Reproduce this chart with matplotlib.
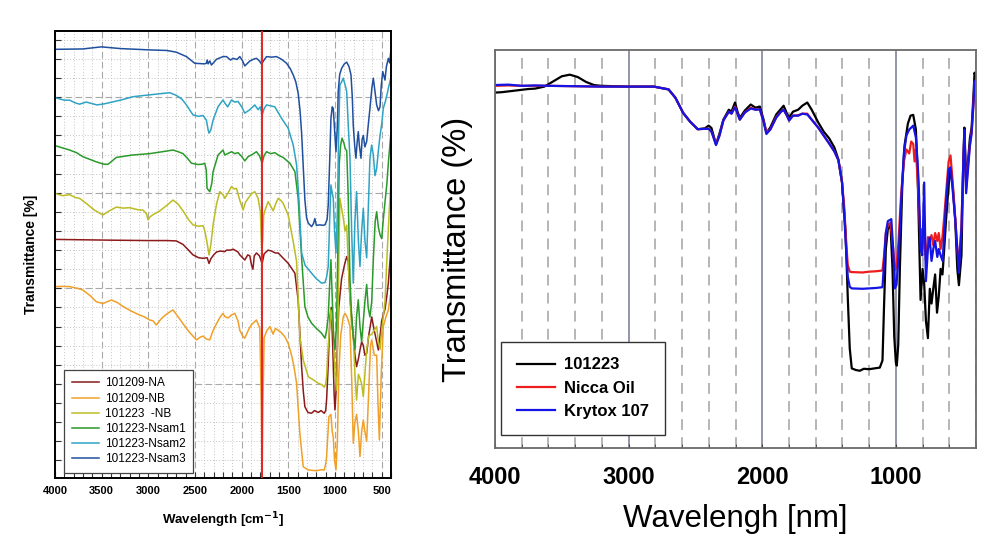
import matplotlib
matplotlib.use("Agg")
import matplotlib.pyplot as plt
from matplotlib.ticker import MultipleLocator, NullFormatter, NullLocator

plt.rcParams['font.family'] = ['Liberation Sans', 'DejaVu Sans']

# ---------------- Left panel data (wavenumber, transmittance in grid units) ----------------
na_wn = [4000, 3700, 3400, 3000, 2800, 2700, 2629, 2570, 2522, 2460, 2414, 2370, 2350, 2330, 2300, 2270, 2230, 2181, 2163, 2120, 2092, 2074, 2040, 2020, 1990, 1967, 1935, 1913, 1895, 1880, 1865, 1842, 1810, 1781, 1760, 1717, 1680, 1640, 1609, 1560, 1502, 1430, 1395, 1375, 1358, 1340, 1323, 1290, 1251, 1220, 1180, 1150, 1116, 1100, 1090, 1073, 1055, 1040, 1025, 1010, 1001, 990, 975, 960, 930, 900, 875, 858, 840, 822, 805, 787, 769, 750, 733, 715, 697, 680, 661, 640, 607, 580, 554, 536, 518, 500, 483, 465, 445, 429, 403]
na_t = [12.56, 12.54, 12.52, 12.5, 12.5, 12.48, 12.3, 12.0, 11.75, 11.6, 11.57, 11.6, 11.3, 11.55, 11.75, 11.9, 11.95, 11.92, 12.0, 12.0, 12.05, 12.0, 11.9, 11.75, 11.6, 11.48, 11.75, 11.7, 11.22, 11.0, 11.7, 11.85, 11.7, 11.3, 11.8, 12.0, 11.95, 11.85, 11.85, 11.6, 11.31, 10.79, 9.39, 7.5, 5.9, 4.6, 3.8, 3.5, 3.46, 3.6, 3.5, 3.6, 3.46, 3.6, 4.2, 6.0, 8.5, 9.0, 7.0, 4.5, 3.63, 4.5, 7.0, 9.0, 10.5, 11.2, 11.66, 11.4, 9.5, 8.5, 7.5, 6.5, 5.9, 6.3, 6.77, 7.2, 7.0, 6.5, 6.6, 7.5, 8.5, 7.8, 7.2, 6.77, 7.5, 8.3, 8.6, 8.9, 9.6, 10.27, 12.0]

nb_wn = [4000, 3920, 3844, 3760, 3702, 3620, 3558, 3487, 3397, 3330, 3272, 3180, 3093, 3040, 2986, 2950, 2914, 2880, 2843, 2790, 2736, 2680, 2629, 2560, 2485, 2440, 2414, 2380, 2342, 2310, 2270, 2230, 2200, 2181, 2145, 2110, 2074, 2040, 2020, 1990, 1967, 1930, 1895, 1842, 1806, 1790, 1781, 1772, 1760, 1730, 1698, 1663, 1640, 1609, 1580, 1538, 1500, 1466, 1440, 1412, 1377, 1341, 1287, 1200, 1150, 1116, 1100, 1090, 1075, 1066, 1044, 1030, 1019, 1005, 990, 975, 960, 940, 912, 894, 870, 840, 820, 805, 787, 769, 750, 733, 715, 697, 680, 661, 640, 620, 607, 580, 554, 540, 525, 505, 483, 455, 429, 403]
nb_t = [10.09, 10.1, 10.09, 10.0, 9.91, 9.6, 9.3, 9.2, 9.39, 9.25, 9.05, 8.8, 8.6, 8.5, 8.34, 8.3, 8.08, 8.3, 8.5, 8.7, 8.87, 8.5, 8.15, 7.7, 7.3, 7.45, 7.5, 7.35, 7.3, 7.75, 8.15, 8.5, 8.69, 8.52, 8.45, 8.6, 8.69, 8.3, 7.8, 7.5, 7.39, 7.8, 8.1, 8.34, 7.9, 4.0, 0.14, 4.0, 7.4, 7.8, 7.99, 7.6, 7.9, 7.8, 7.7, 7.47, 7.1, 6.5, 5.9, 5.03, 2.41, 0.66, 0.49, 0.45, 0.5, 0.49, 0.8, 1.2, 2.5, 3.28, 3.4, 2.5, 2.2, 1.0, 0.49, 2.0, 5.5, 7.5, 8.5, 8.69, 8.5, 8.0, 5.0, 1.89, 3.0, 3.4, 2.5, 1.19, 2.5, 3.1, 2.5, 2.0, 4.5, 7.0, 7.3, 6.5, 6.5, 4.0, 2.06, 5.5, 8.0, 8.5, 8.87, 9.74]

nb23_wn = [4000, 3920, 3844, 3780, 3737, 3666, 3580, 3487, 3420, 3343, 3270, 3201, 3100, 3058, 3020, 3004, 2980, 2951, 2879, 2800, 2736, 2680, 2629, 2570, 2522, 2460, 2414, 2395, 2375, 2350, 2330, 2307, 2270, 2235, 2200, 2181, 2145, 2109, 2080, 2056, 2020, 1985, 1960, 1931, 1895, 1860, 1824, 1800, 1785, 1775, 1765, 1752, 1717, 1690, 1663, 1630, 1609, 1580, 1556, 1502, 1448, 1412, 1390, 1377, 1341, 1287, 1230, 1180, 1140, 1116, 1100, 1090, 1073, 1044, 1019, 1000, 983, 970, 958, 948, 930, 912, 893, 875, 860, 840, 822, 805, 787, 769, 750, 733, 715, 697, 680, 661, 640, 607, 580, 554, 536, 518, 500, 483, 465, 440, 420, 403]
nb23_t = [14.97, 14.85, 14.9, 14.75, 14.71, 14.45, 14.1, 13.84, 14.05, 14.25, 14.2, 14.22, 14.1, 14.1, 13.9, 13.58, 13.75, 13.85, 14.05, 14.35, 14.62, 14.4, 14.06, 13.6, 13.32, 13.25, 13.28, 13.0, 12.5, 11.75, 12.3, 13.32, 14.4, 15.06, 14.9, 14.71, 15.0, 15.33, 15.2, 15.23, 14.6, 14.1, 14.5, 14.71, 14.95, 15.06, 14.71, 14.0, 12.0, 12.5, 13.8, 14.06, 14.54, 14.3, 14.06, 14.5, 14.71, 14.6, 14.45, 13.84, 12.44, 11.4, 9.0, 7.5, 6.25, 5.37, 5.2, 5.03, 4.95, 4.82, 5.0, 5.4, 7.0, 8.87, 7.8, 5.5, 4.68, 7.5, 12.0, 14.71, 14.2, 13.7, 13.0, 13.3, 11.5, 9.39, 8.0, 7.6, 5.5, 4.15, 5.5, 5.3, 5.0, 4.33, 5.5, 6.8, 7.5, 7.6, 7.8, 8.0, 7.2, 6.8, 7.8, 8.5, 9.3, 12.0, 14.0, 15.41]

s1_wn = [4000, 3920, 3844, 3770, 3702, 3600, 3558, 3480, 3433, 3380, 3343, 3250, 3165, 2986, 2850, 2736, 2680, 2629, 2580, 2539, 2468, 2420, 2396, 2380, 2371, 2342, 2320, 2307, 2253, 2200, 2181, 2109, 2075, 2039, 2000, 1967, 1930, 1895, 1842, 1810, 1781, 1760, 1734, 1690, 1645, 1600, 1556, 1484, 1430, 1395, 1375, 1358, 1323, 1290, 1251, 1200, 1144, 1108, 1090, 1073, 1055, 1044, 1030, 1015, 1001, 985, 970, 955, 940, 925, 905, 890, 875, 860, 840, 822, 805, 786, 770, 751, 733, 715, 697, 680, 661, 645, 626, 607, 590, 570, 554, 536, 518, 500, 483, 465, 446, 425, 403]
s1_t = [17.47, 17.35, 17.24, 17.1, 16.89, 16.7, 16.62, 16.5, 16.49, 16.7, 16.85, 16.92, 16.98, 17.05, 17.15, 17.24, 17.15, 17.05, 16.8, 16.55, 16.48, 16.5, 16.55, 16.2, 15.23, 15.06, 15.5, 16.1, 16.98, 17.24, 16.98, 17.15, 17.05, 17.1, 16.9, 16.67, 16.9, 16.98, 17.15, 16.95, 16.55, 16.95, 17.15, 17.05, 17.1, 16.95, 16.85, 16.55, 16.11, 14.71, 13.0, 11.6, 9.04, 8.5, 8.17, 7.9, 7.65, 7.39, 7.8, 8.52, 10.5, 11.5, 9.5, 7.5, 6.77, 8.0, 12.0, 16.5, 17.5, 17.86, 17.6, 17.3, 17.2, 15.0, 10.5, 8.5, 7.5, 6.8, 8.5, 9.4, 8.0, 7.2, 8.3, 9.3, 10.2, 9.0, 8.5, 9.3, 11.5, 13.5, 14.01, 13.2, 12.8, 12.6, 13.6, 14.5, 15.41, 16.8, 18.03]

s2_wn = [4000, 3900, 3844, 3780, 3737, 3666, 3550, 3469, 3300, 3165, 3000, 2850, 2771, 2700, 2640, 2592, 2522, 2460, 2414, 2378, 2360, 2350, 2330, 2307, 2253, 2200, 2181, 2150, 2109, 2075, 2039, 2000, 1967, 1913, 1860, 1824, 1800, 1781, 1760, 1734, 1690, 1645, 1573, 1502, 1448, 1412, 1385, 1358, 1320, 1251, 1200, 1144, 1108, 1090, 1073, 1058, 1044, 1030, 1019, 1005, 990, 975, 960, 948, 930, 912, 890, 875, 858, 840, 822, 805, 787, 769, 750, 733, 715, 697, 680, 661, 645, 626, 608, 590, 572, 554, 536, 518, 500, 483, 460, 440, 429, 403]
s2_t = [19.98, 19.85, 19.85, 19.7, 19.64, 19.75, 19.6, 19.66, 19.85, 20.03, 20.12, 20.2, 20.24, 20.1, 19.9, 19.6, 19.08, 19.0, 19.05, 18.8, 18.3, 18.12, 18.3, 18.8, 19.51, 19.86, 19.7, 19.5, 19.86, 19.75, 19.78, 19.5, 19.17, 19.35, 19.6, 19.35, 19.5, 19.08, 19.4, 19.6, 19.55, 19.5, 18.9, 18.38, 17.5, 16.46, 14.5, 11.84, 11.2, 10.79, 10.5, 10.27, 10.3, 10.6, 11.14, 13.5, 15.41, 15.0, 14.71, 13.0, 11.85, 14.0, 18.5, 20.65, 20.8, 21.0, 20.6, 20.3, 18.5, 16.81, 13.0, 10.27, 13.5, 15.06, 12.5, 11.14, 13.0, 14.19, 12.5, 11.6, 14.0, 16.81, 17.5, 17.0, 15.9, 16.28, 17.2, 18.0, 18.6, 19.42, 19.8, 20.2, 20.47, 21.0]

s3_wn = [4000, 3850, 3702, 3504, 3300, 2986, 2800, 2700, 2592, 2503, 2400, 2378, 2370, 2360, 2342, 2324, 2270, 2200, 2163, 2120, 2092, 2050, 2020, 1990, 1967, 1913, 1870, 1841, 1810, 1788, 1760, 1734, 1680, 1627, 1570, 1519, 1480, 1448, 1420, 1395, 1375, 1358, 1340, 1323, 1305, 1287, 1251, 1230, 1216, 1200, 1162, 1130, 1108, 1085, 1073, 1055, 1044, 1030, 1019, 1005, 990, 975, 966, 950, 929, 900, 875, 850, 829, 815, 805, 790, 776, 764, 751, 740, 722, 710, 697, 680, 661, 645, 626, 605, 590, 572, 554, 535, 518, 505, 489, 465, 450, 429, 415, 403]
s3_t = [22.51, 22.52, 22.53, 22.64, 22.55, 22.48, 22.45, 22.36, 22.13, 21.78, 21.75, 21.78, 21.95, 21.75, 21.9, 21.69, 21.99, 22.13, 22.13, 21.95, 22.04, 21.98, 22.13, 21.9, 21.64, 21.9, 22.0, 22.04, 21.9, 21.74, 21.95, 22.13, 22.1, 22.13, 21.98, 21.78, 21.5, 21.17, 20.8, 20.21, 19.3, 18.12, 16.3, 14.63, 13.7, 13.41, 13.23, 13.4, 13.65, 13.3, 13.32, 13.3, 13.32, 13.6, 14.36, 17.0, 18.89, 19.5, 19.42, 18.3, 17.15, 18.5, 20.3, 21.2, 21.52, 21.75, 21.84, 21.6, 21.17, 20.0, 18.55, 17.5, 16.81, 17.6, 18.2, 17.5, 16.81, 17.8, 18.0, 17.4, 17.69, 18.5, 19.42, 20.5, 21.0, 20.3, 19.6, 19.3, 19.5, 20.6, 21.35, 20.9, 21.6, 22.04, 21.8, 22.39]

left_labels = ['101209-NA', '101209-NB', '101223  -NB', '101223-Nsam1', '101223-Nsam2', '101223-Nsam3']
left_colors = ['#8c1a1a', '#f0a028', '#bcbc22', '#2a9a2a', '#2ea3c4', '#1f4f9e']
left_xticks = [4000, 3500, 3000, 2500, 2000, 1500, 1000, 500]
marker_wn = 1780

# ---------------- Right panel data (wavenumber, transmittance %) ----------------
blk_wn = [4000, 3950, 3900, 3850, 3800, 3750, 3700, 3631, 3560, 3500, 3440, 3380, 3320, 3260, 3207, 3100, 3000, 2900, 2811, 2701, 2650, 2592, 2540, 2483, 2430, 2401, 2380, 2346, 2320, 2291, 2250, 2230, 2204, 2185, 2168, 2130, 2086, 2050, 2018, 1990, 1969, 1940, 1895, 1860, 1840, 1815, 1799, 1770, 1731, 1700, 1663, 1630, 1581, 1540, 1499, 1460, 1430, 1403, 1376, 1360, 1345, 1330, 1300, 1270, 1240, 1200, 1160, 1120, 1100, 1089, 1075, 1060, 1040, 1025, 1012, 1000, 993, 982, 970, 952, 935, 910, 890, 870, 850, 838, 829, 815, 800, 788, 775, 760, 746, 733, 720, 706, 692, 679, 665, 651, 638, 624, 605, 591, 575, 556, 540, 528, 509, 495, 487, 474, 460, 446, 433, 420, 411, 400]
blk_t = [89.3, 89.4, 89.6, 89.8, 90.0, 90.2, 90.3, 90.8, 92.2, 93.4, 93.8, 93.2, 92.0, 91.2, 91.0, 90.9, 90.8, 90.8, 90.8, 90.1, 88.0, 84.2, 82.0, 80.1, 80.3, 81.0, 80.4, 76.3, 79.0, 82.5, 85.0, 84.5, 86.8, 84.5, 82.9, 84.8, 86.3, 85.5, 85.8, 82.5, 79.2, 80.5, 83.8, 85.2, 86.0, 84.0, 83.0, 84.5, 85.0, 86.0, 86.8, 85.0, 81.8, 79.5, 77.8, 75.5, 72.5, 66.8, 54.0, 38.0, 25.0, 20.0, 19.6, 19.4, 19.9, 19.8, 20.0, 20.2, 22.0, 35.0, 50.0, 55.0, 56.0, 45.0, 28.0, 21.5, 20.7, 26.0, 45.0, 66.0, 76.0, 81.5, 83.5, 83.7, 80.0, 70.0, 57.5, 37.2, 45.0, 41.3, 32.0, 27.6, 40.0, 36.3, 40.0, 43.6, 34.0, 38.1, 45.0, 43.6, 50.0, 57.5, 66.0, 70.4, 66.0, 57.5, 45.0, 40.9, 48.4, 72.0, 80.5, 66.7, 72.0, 77.8, 80.5, 88.0, 94.3, 93.0]

red_wn = [4000, 3900, 3800, 3700, 3600, 3400, 3200, 3000, 2811, 2701, 2650, 2592, 2540, 2483, 2430, 2401, 2380, 2346, 2320, 2291, 2250, 2230, 2204, 2185, 2168, 2130, 2086, 2050, 2018, 1990, 1969, 1940, 1895, 1860, 1840, 1815, 1799, 1770, 1731, 1700, 1663, 1630, 1581, 1540, 1499, 1460, 1430, 1403, 1385, 1376, 1360, 1345, 1330, 1250, 1200, 1150, 1100, 1089, 1075, 1060, 1040, 1020, 1007, 995, 980, 960, 940, 921, 900, 885, 870, 860, 850, 838, 829, 815, 802, 788, 775, 760, 747, 733, 720, 706, 690, 679, 665, 651, 638, 624, 605, 591, 575, 556, 540, 528, 509, 495, 487, 474, 460, 446, 433, 420, 411, 400]
red_t = [91.0, 91.1, 91.0, 91.0, 91.0, 90.9, 90.8, 90.8, 90.8, 90.1, 88.0, 84.2, 82.0, 80.1, 80.2, 80.2, 79.5, 76.5, 78.5, 82.3, 84.5, 84.0, 85.8, 84.0, 82.5, 84.3, 85.5, 85.0, 85.1, 82.0, 79.5, 80.0, 83.2, 84.5, 85.0, 83.5, 82.3, 83.5, 83.6, 84.0, 84.0, 82.5, 80.5, 78.5, 76.5, 74.5, 72.3, 66.8, 60.0, 54.0, 46.0, 44.3, 44.2, 44.1, 44.3, 44.4, 44.6, 48.0, 54.0, 56.0, 56.6, 50.0, 44.7, 45.5, 52.0, 64.0, 72.0, 75.0, 74.0, 77.0, 76.4, 72.0, 75.0, 68.0, 62.0, 52.0, 55.0, 52.0, 47.0, 53.0, 52.0, 53.5, 51.0, 54.0, 52.0, 54.0, 50.0, 53.0, 58.0, 64.0, 72.0, 73.5, 67.0, 58.0, 50.0, 46.0, 56.0, 72.0, 79.0, 65.0, 71.0, 76.0, 79.5, 86.0, 92.0, 92.5]

blu_wn = [4000, 3900, 3800, 3700, 3600, 3400, 3200, 3000, 2811, 2701, 2650, 2592, 2540, 2483, 2430, 2401, 2380, 2346, 2320, 2291, 2250, 2230, 2204, 2185, 2168, 2130, 2086, 2050, 2018, 1990, 1969, 1940, 1895, 1860, 1840, 1815, 1799, 1770, 1731, 1700, 1663, 1630, 1581, 1540, 1499, 1460, 1430, 1403, 1385, 1376, 1360, 1345, 1330, 1250, 1200, 1150, 1100, 1089, 1075, 1060, 1034, 1020, 1007, 995, 980, 960, 940, 921, 900, 870, 850, 838, 829, 815, 802, 788, 775, 760, 747, 733, 720, 706, 690, 679, 665, 650, 638, 624, 605, 591, 575, 556, 540, 528, 509, 495, 487, 474, 460, 446, 433, 420, 411, 400]
blu_t = [91.2, 91.3, 91.0, 91.1, 91.0, 90.9, 90.8, 90.8, 90.8, 90.1, 88.0, 84.2, 82.0, 80.1, 80.2, 80.2, 79.5, 76.1, 78.5, 82.3, 84.5, 84.0, 85.6, 84.0, 82.5, 84.3, 85.3, 85.0, 85.1, 82.0, 78.9, 80.0, 83.0, 84.5, 85.0, 83.5, 82.3, 83.5, 83.5, 84.0, 83.8, 82.5, 80.5, 78.5, 76.5, 74.5, 72.3, 66.8, 58.0, 52.0, 43.0, 40.5, 40.1, 40.0, 40.1, 40.2, 40.4, 46.0, 54.0, 57.0, 57.5, 50.0, 40.1, 41.0, 48.0, 62.0, 74.0, 78.5, 80.0, 81.0, 78.0, 72.0, 66.7, 50.0, 48.4, 66.7, 41.9, 50.0, 52.9, 47.0, 50.0, 52.0, 48.0, 50.0, 48.4, 47.0, 53.9, 62.0, 70.0, 70.5, 65.0, 57.5, 50.0, 44.0, 55.0, 72.0, 80.0, 64.0, 70.0, 76.0, 79.0, 86.0, 92.0, 92.5]

right_labels = ['101223', 'Nicca Oil', 'Krytox 107']
right_colors = ['#000000', '#ee1c1c', '#1414e6']
right_xticks = [4000, 3000, 2000, 1000]

# ---------------- Figure ----------------
fig = plt.figure(figsize=(9.93, 5.40), dpi=100)

# Left panel
axL = fig.add_axes([0.0554, 0.1148, 0.3384, 0.8278])
series_left = [(na_wn, na_t), (nb_wn, nb_t), (nb23_wn, nb23_t), (s1_wn, s1_t), (s2_wn, s2_t), (s3_wn, s3_t)]
for (w, t), lab, col in zip(series_left, left_labels, left_colors):
    axL.plot(w, t, color=col, lw=1.1, label=lab)
axL.axvline(marker_wn, color='#e8231f', lw=1.4, zorder=5)
axL.set_xlim(4000, 400)
axL.set_ylim(0.07, 23.47)
axL.set_xticks(left_xticks)
axL.set_xticklabels([str(v) for v in left_xticks], fontsize=8, fontweight='bold')
axL.xaxis.set_minor_locator(MultipleLocator(100))
axL.yaxis.set_major_locator(MultipleLocator(5))
axL.yaxis.set_minor_locator(MultipleLocator(1))
axL.yaxis.set_major_formatter(NullFormatter())
axL.tick_params(axis='both', which='both', direction='in', length=4, width=0.8, color='#333333')
axL.tick_params(axis='x', which='major', pad=6)
axL.grid(which='major', color='#a8a8a8', ls=(0, (6, 3)), lw=0.8)
axL.grid(which='minor', color='#c4c4c4', ls=(0, (1, 2)), lw=0.7)
axL.set_axisbelow(True)
for sp in axL.spines.values():
    sp.set_linewidth(1.4)
    sp.set_color('black')
axL.set_xlabel('Wavelength [cm$^{\\mathbf{-1}}$]', fontsize=9.5, fontweight='bold', labelpad=10)
axL.set_ylabel('Transmittance [%]', fontsize=10, fontweight='bold', labelpad=9)
legL = axL.legend(loc='lower left', bbox_to_anchor=(0.028, 0.011), borderaxespad=0, fontsize=8.5,
                  frameon=True, fancybox=False, edgecolor='#444444', framealpha=1, handlelength=2.3,
                  labelspacing=0.27, borderpad=0.65, handletextpad=0.45)
legL.get_frame().set_linewidth(0.9)

# Right panel
axR = fig.add_axes([0.4985, 0.1704, 0.4844, 0.737])
series_right = [(blk_wn, blk_t), (red_wn, red_t), (blu_wn, blu_t)]
for (w, t), lab, col in zip(series_right, right_labels, right_colors):
    axR.plot(w, t, color=col, lw=1.6, label=lab)
axR.set_xlim(4000, 400)
axR.set_ylim(0, 100)
axR.set_xticks(right_xticks)
axR.set_xticklabels([str(v) for v in right_xticks], fontsize=17, fontweight='bold')
axR.xaxis.set_minor_locator(MultipleLocator(200))
axR.yaxis.set_major_locator(NullLocator())
axR.tick_params(axis='x', which='both', direction='in', length=3, color='#444444', pad=13)
axR.grid(axis='x', which='major', color='#8a8ea0', ls='-', lw=1.3)
axR.grid(axis='x', which='minor', color='#b0b0b0', ls=(0, (6, 4)), lw=1.3)
axR.set_axisbelow(True)
for sp in axR.spines.values():
    sp.set_linewidth(1.3)
    sp.set_color('#6a6a6a')
axR.set_xlabel('Wavelengh [nm]', fontsize=22.5, labelpad=11)
axR.set_ylabel('Transmittance (%)', fontsize=23.5, labelpad=16)
legR = axR.legend(loc='lower left', bbox_to_anchor=(0.012, 0.033), borderaxespad=0, frameon=True,
                  fancybox=False, edgecolor='#333333', framealpha=1, handlelength=2.3,
                  labelspacing=0.5, borderpad=0.95, handletextpad=0.55,
                  prop={'size': 12, 'weight': 'bold'})
legR.get_frame().set_linewidth(1.0)

fig.savefig('out.png', dpi=100)
